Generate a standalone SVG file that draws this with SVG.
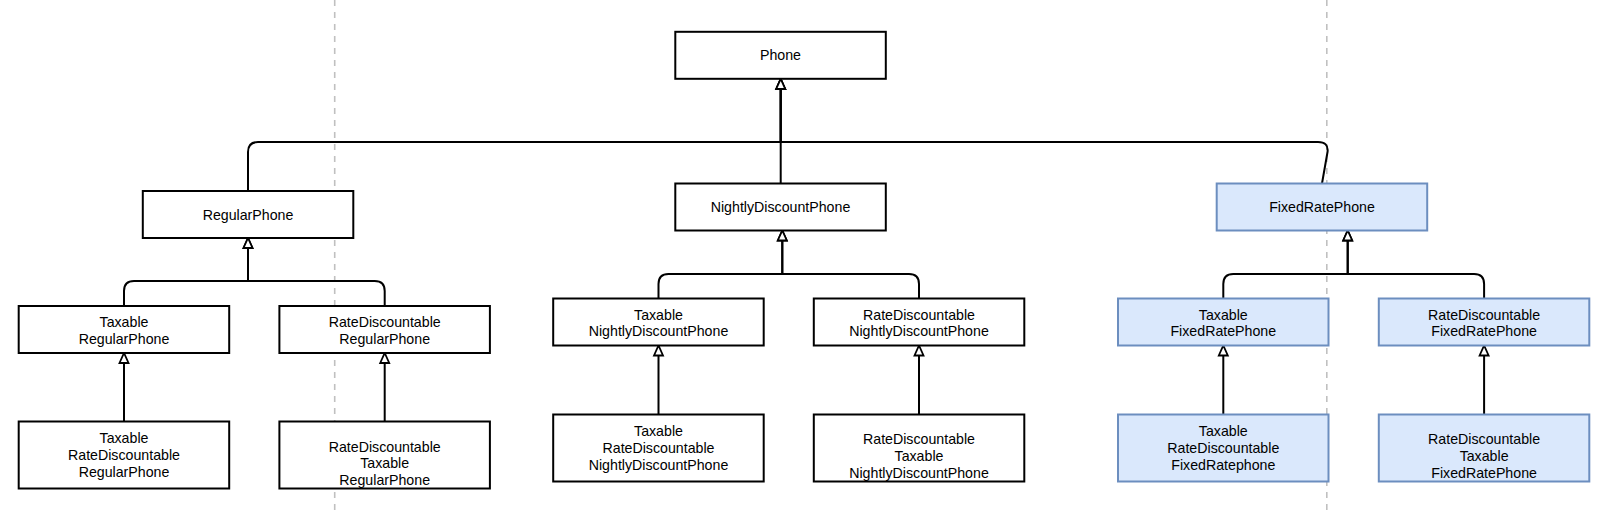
<svg xmlns="http://www.w3.org/2000/svg" width="1608" height="512" viewBox="0 0 1608 512">
<style>
.box{fill:#ffffff;stroke:#000000;stroke-width:2}
.blue{fill:#dae8fc;stroke:#6c8ebf;stroke-width:2}
.lbl{font-family:"Liberation Sans",Arial,Helvetica,sans-serif;font-size:14.2px;fill:#000000;text-anchor:middle}
.edge{fill:none;stroke:#000000;stroke-width:2}
.sep{fill:none;stroke:#c0c0c0;stroke-width:1.6;stroke-dasharray:6 6}
</style>
<defs>
<marker id="tri" markerUnits="userSpaceOnUse" viewBox="-2 -2 14 14" markerWidth="14" markerHeight="14" refX="0" refY="5" orient="auto" overflow="visible">
<path d="M0,0.5 L10,5 L0,9.5 Z" fill="#ffffff" stroke="#000000" stroke-width="1.8" stroke-linejoin="miter"/>
</marker>
</defs>
<rect width="1608" height="512" fill="#ffffff"/>
<g id="separators">
<line class="sep" x1="334.7" y1="0" x2="334.7" y2="512"/>
<line class="sep" x1="1326.8" y1="0" x2="1326.8" y2="512"/>
</g>
<g id="connectors">
<path class="edge" marker-end="url(#tri)" d="M248,191 L248,152 Q248,142 258,142 L780.7,142 L780.7,89"/>
<path class="edge" marker-end="url(#tri)" d="M1322,183.5 L1327.6,151.5 Q1328.5,142 1318,142 L780.7,142 L780.7,89"/>
<path class="edge" marker-end="url(#tri)" d="M780.7,183.5 L780.7,89"/>
<path class="edge" marker-end="url(#tri)" d="M124,306 L124,291 Q124,281 134,281 L248,281 L248,248"/>
<path class="edge" marker-end="url(#tri)" d="M384.7,306 L384.7,291 Q384.7,281 374.7,281 L248,281 L248,248"/>
<path class="edge" marker-end="url(#tri)" d="M124,421.5 L124,363"/>
<path class="edge" marker-end="url(#tri)" d="M384.7,421.5 L384.7,363"/>
<path class="edge" marker-end="url(#tri)" d="M658.5,298.5 L658.5,284 Q658.5,274 668.5,274 L782.3,274 L782.3,240.5"/>
<path class="edge" marker-end="url(#tri)" d="M919,298.5 L919,284 Q919,274 909,274 L782.3,274 L782.3,240.5"/>
<path class="edge" marker-end="url(#tri)" d="M658.5,414.5 L658.5,355.5"/>
<path class="edge" marker-end="url(#tri)" d="M919,414.5 L919,355.5"/>
<path class="edge" marker-end="url(#tri)" d="M1223.3,298.5 L1223.3,284 Q1223.3,274 1233.3,274 L1347.7,274 L1347.7,240.5"/>
<path class="edge" marker-end="url(#tri)" d="M1484.1,298.5 L1484.1,284 Q1484.1,274 1474.1,274 L1347.7,274 L1347.7,240.5"/>
<path class="edge" marker-end="url(#tri)" d="M1223.3,414.5 L1223.3,355.5"/>
<path class="edge" marker-end="url(#tri)" d="M1484.1,414.5 L1484.1,355.5"/>
</g>
<g id="phone"><rect class="box" x="675.3" y="31.8" width="210.5" height="47"/><text class="lbl" x="780.5" y="60.3">Phone</text></g>
<g id="regularPhone"><rect class="box" x="142.8" y="191" width="210.5" height="47"/><text class="lbl" x="248" y="219.5">RegularPhone</text></g>
<g id="nightlyDiscountPhone"><rect class="box" x="675.3" y="183.5" width="210.5" height="47"/><text class="lbl" x="780.5" y="212">NightlyDiscountPhone</text></g>
<g id="fixedRatePhone"><rect class="blue" x="1216.7" y="183.5" width="210.5" height="47"/><text class="lbl" x="1322" y="212">FixedRatePhone</text></g>
<g id="taxableRegularPhone"><rect class="box" x="18.7" y="306" width="210.5" height="47"/><text class="lbl" x="124"><tspan x="124" y="326.5">Taxable</tspan><tspan x="124" y="343.5">RegularPhone</tspan></text></g>
<g id="rateDiscountableRegularPhone"><rect class="box" x="279.4" y="306" width="210.5" height="47"/><text class="lbl" x="384.7"><tspan x="384.7" y="326.5">RateDiscountable</tspan><tspan x="384.7" y="343.5">RegularPhone</tspan></text></g>
<g id="taxableRateDiscountableRegularPhone"><rect class="box" x="18.7" y="421.5" width="210.5" height="67"/><text class="lbl"><tspan x="124" y="442.8">Taxable</tspan><tspan x="124" y="459.8">RateDiscountable</tspan><tspan x="124" y="476.8">RegularPhone</tspan></text></g>
<g id="rateDiscountableTaxableRegularPhone"><rect class="box" x="279.4" y="421.5" width="210.5" height="67"/><text class="lbl"><tspan x="384.7" y="451.6">RateDiscountable</tspan><tspan x="384.7" y="468.4">Taxable</tspan><tspan x="384.7" y="485.2">RegularPhone</tspan></text></g>
<g id="taxableNightlyDiscountPhone"><rect class="box" x="553.2" y="298.5" width="210.5" height="47"/><text class="lbl"><tspan x="658.5" y="319.5">Taxable</tspan><tspan x="658.5" y="336.3">NightlyDiscountPhone</tspan></text></g>
<g id="rateDiscountableNightlyDiscountPhone"><rect class="box" x="813.8" y="298.5" width="210.5" height="47"/><text class="lbl"><tspan x="919" y="319.5">RateDiscountable</tspan><tspan x="919" y="336.3">NightlyDiscountPhone</tspan></text></g>
<g id="taxableRateDiscountableNightlyDiscountPhone"><rect class="box" x="553.2" y="414.5" width="210.5" height="67"/><text class="lbl"><tspan x="658.5" y="436">Taxable</tspan><tspan x="658.5" y="453.2">RateDiscountable</tspan><tspan x="658.5" y="470">NightlyDiscountPhone</tspan></text></g>
<g id="rateDiscountableTaxableNightlyDiscountPhone"><rect class="box" x="813.8" y="414.5" width="210.5" height="67"/><text class="lbl"><tspan x="919" y="444">RateDiscountable</tspan><tspan x="919" y="461">Taxable</tspan><tspan x="919" y="477.8">NightlyDiscountPhone</tspan></text></g>
<g id="taxableFixedRatePhone"><rect class="blue" x="1118" y="298.5" width="210.5" height="47"/><text class="lbl"><tspan x="1223.3" y="319.5">Taxable</tspan><tspan x="1223.3" y="336.3">FixedRatePhone</tspan></text></g>
<g id="rateDiscountableFixedRatePhone"><rect class="blue" x="1378.8" y="298.5" width="210.5" height="47"/><text class="lbl"><tspan x="1484.1" y="319.5">RateDiscountable</tspan><tspan x="1484.1" y="336.3">FixedRatePhone</tspan></text></g>
<g id="taxableRateDiscountableFixedRatePhone"><rect class="blue" x="1118" y="414.5" width="210.5" height="67"/><text class="lbl"><tspan x="1223.3" y="436">Taxable</tspan><tspan x="1223.3" y="453.2">RateDiscountable</tspan><tspan x="1223.3" y="470">FixedRatephone</tspan></text></g>
<g id="rateDiscountableTaxableFixedRatePhone"><rect class="blue" x="1378.8" y="414.5" width="210.5" height="67"/><text class="lbl"><tspan x="1484.1" y="444">RateDiscountable</tspan><tspan x="1484.1" y="461">Taxable</tspan><tspan x="1484.1" y="477.8">FixedRatePhone</tspan></text></g>
</svg>
